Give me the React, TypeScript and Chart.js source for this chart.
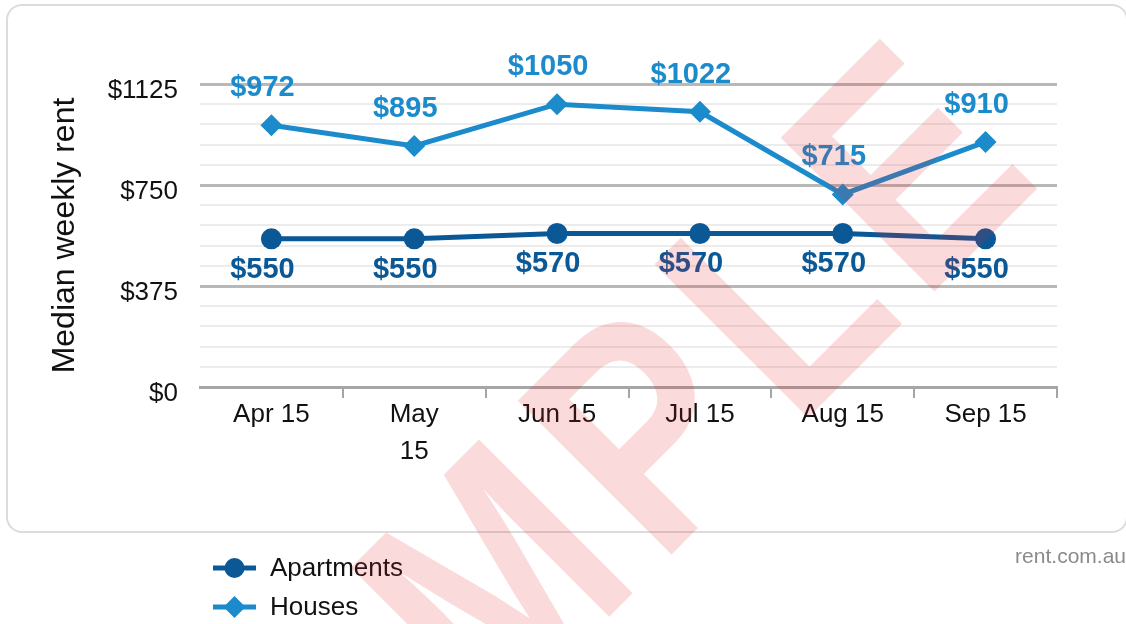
import React, { useEffect, useRef } from 'react';
import { Chart, registerables } from 'chart.js';

Chart.register(...registerables);

// ---- data ----
const months = ['Apr 15', 'May 15', 'Jun 15', 'Jul 15', 'Aug 15', 'Sep 15'];
const monthTickLabels: (string | string[])[] = ['Apr 15', ['May', '15'], 'Jun 15', 'Jul 15', 'Aug 15', 'Sep 15'];
const apartmentsRent = [550, 550, 570, 570, 570, 550];
const housesRent = [972, 895, 1050, 1022, 715, 910];
const seriesNames = ['Apartments', 'Houses'];
const yAxisTitle = 'Median weekly rent';
const yMin = 0;
const yMax = 1125;
const yStep = 75;
const yLabelEvery = 375;
const creditText = 'rent.com.au';
const watermarkText = 'SAMPLE';

// ---- styles ----
const FONT = '"Liberation Sans", Arial, Helvetica, sans-serif';
const APT_COLOR = '#0a5896';
const HOUSE_COLOR = '#1b8bcb';

const decorPlugin = {
  id: 'decor',
  beforeDraw(chart: any) {
    const ctx = chart.ctx as CanvasRenderingContext2D;
    ctx.save();
    ctx.fillStyle = '#ffffff';
    ctx.fillRect(0, 0, chart.width, chart.height);
    ctx.strokeStyle = '#dcdcdc';
    ctx.lineWidth = 2;
    ctx.beginPath();
    (ctx as any).roundRect(7, 5, 1120, 527, 15);
    ctx.stroke();
    ctx.restore();
  },
  afterDatasetsDraw(chart: any) {
    const ctx = chart.ctx as CanvasRenderingContext2D;
    chart.data.datasets.forEach((ds: any, di: number) => {
      const meta = chart.getDatasetMeta(di);
      const above = ds.label === 'Houses';
      ctx.save();
      ctx.font = `bold 29px ${FONT}`;
      ctx.fillStyle = ds.borderColor;
      ctx.textAlign = 'center';
      ctx.textBaseline = 'middle';
      meta.data.forEach((pt: any, i: number) => {
        ctx.fillText('$' + ds.data[i], pt.x - 9, pt.y + (above ? -37 : 31));
      });
      ctx.restore();
    });
  },
  afterDraw(chart: any) {
    const ctx = chart.ctx as CanvasRenderingContext2D;
    // legend
    chart.data.datasets.forEach((ds: any, di: number) => {
      const y = 568 + di * 39;
      ctx.save();
      ctx.strokeStyle = ds.borderColor;
      ctx.fillStyle = ds.borderColor;
      ctx.lineWidth = 5;
      ctx.beginPath();
      ctx.moveTo(213, y);
      ctx.lineTo(256, y);
      ctx.stroke();
      const cx = 234.5;
      ctx.beginPath();
      if (ds.pointStyle === 'rectRot') {
        const r = 11;
        ctx.moveTo(cx, y - r);
        ctx.lineTo(cx + r, y);
        ctx.lineTo(cx, y + r);
        ctx.lineTo(cx - r, y);
        ctx.closePath();
      } else {
        ctx.arc(cx, y, 10, 0, Math.PI * 2);
      }
      ctx.fill();
      ctx.font = `26px ${FONT}`;
      ctx.fillStyle = '#111';
      ctx.textAlign = 'left';
      ctx.textBaseline = 'middle';
      ctx.fillText(ds.label, 270, y + 1);
      ctx.restore();
    });
    // credit
    ctx.save();
    ctx.font = `21px ${FONT}`;
    ctx.fillStyle = '#8a8a8a';
    ctx.textAlign = 'right';
    ctx.textBaseline = 'alphabetic';
    ctx.fillText(creditText, 1126, 563);
    ctx.restore();
    // watermark
    ctx.save();
    ctx.translate(209, 1017);
    ctx.rotate(-Math.PI / 4);
    ctx.scale(0.82, 1);
    ctx.font = `bold 316px ${FONT}`;
    ctx.fillStyle = 'rgba(230, 30, 40, 0.165)';
    ctx.textAlign = 'left';
    ctx.textBaseline = 'alphabetic';
    let x = 0;
    for (const ch of watermarkText) {
      ctx.fillText(ch, x, 0);
      x += ctx.measureText(ch).width + 24.8;
    }
    ctx.restore();
  },
};

export default function App() {
  const canvasRef = useRef<HTMLCanvasElement | null>(null);

  useEffect(() => {
    if (!canvasRef.current) return;
    Chart.defaults.font.family = FONT;
    const chart = new Chart(canvasRef.current, {
      type: 'line',
      data: {
        labels: months,
        datasets: [
          {
            label: seriesNames[0],
            data: apartmentsRent,
            borderColor: APT_COLOR,
            backgroundColor: APT_COLOR,
            borderWidth: 5,
            pointStyle: 'circle',
            pointRadius: 10.5,
            pointBorderWidth: 0,
            tension: 0,
          },
          {
            label: seriesNames[1],
            data: housesRent,
            borderColor: HOUSE_COLOR,
            backgroundColor: HOUSE_COLOR,
            borderWidth: 5,
            pointStyle: 'rectRot',
            pointRadius: 11,
            pointBorderWidth: 0,
            tension: 0,
          },
        ],
      },
      options: {
        responsive: false,
        animation: false,
        events: [],
        layout: { padding: { left: 0, right: 69, top: 84, bottom: 164 } },
        plugins: {
          legend: { display: false },
          tooltip: { enabled: false },
          title: { display: false },
        },
        scales: {
          x: {
            offset: true,
            afterFit: (scale: any) => {
              scale.height = 73;
            },
            grid: {
              offset: true,
              drawOnChartArea: false,
              drawTicks: true,
              tickLength: 11,
              lineWidth: 2,
              color: (c: any) => (c.index === 0 ? 'rgba(0,0,0,0)' : '#a6a6a6'),
            },
            border: { display: true, color: '#a6a6a6', width: 3 },
            ticks: {
              autoSkip: false,
              maxRotation: 0,
              padding: -2,
              color: '#111',
              font: { size: 26, lineHeight: 1.44 },
              callback: (_v: any, i: number) => monthTickLabels[i],
            },
          },
          y: {
            min: yMin,
            max: yMax,
            afterFit: (scale: any) => {
              scale.width = 200;
            },
            grid: {
              drawTicks: false,
              color: (c: any) => (c.tick && c.tick.value % yLabelEvery === 0 ? '#b8b8b8' : '#ececec'),
              lineWidth: (c: any) => (c.tick && c.tick.value % yLabelEvery === 0 ? 3 : 2),
            },
            border: { display: false },
            ticks: {
              stepSize: yStep,
              autoSkip: false,
              padding: 22,
              labelOffset: 7,
              color: '#111',
              font: { size: 26 },
              callback: (v: any) => (Number(v) % yLabelEvery === 0 ? '$' + v : ''),
            },
            title: {
              display: true,
              text: yAxisTitle,
              color: '#111',
              font: { size: 32, lineHeight: 1.2 },
              padding: { top: 46, bottom: 0 },
            },
          },
        },
      },
      plugins: [decorPlugin],
    });
    return () => chart.destroy();
  }, []);

  return (
    <div style={{ position: 'absolute', left: 0, top: 0, width: 1126, height: 624, overflow: 'hidden', background: '#fff' }}>
      <canvas ref={canvasRef} width={1126} height={624} style={{ display: 'block' }} />
    </div>
  );
}
